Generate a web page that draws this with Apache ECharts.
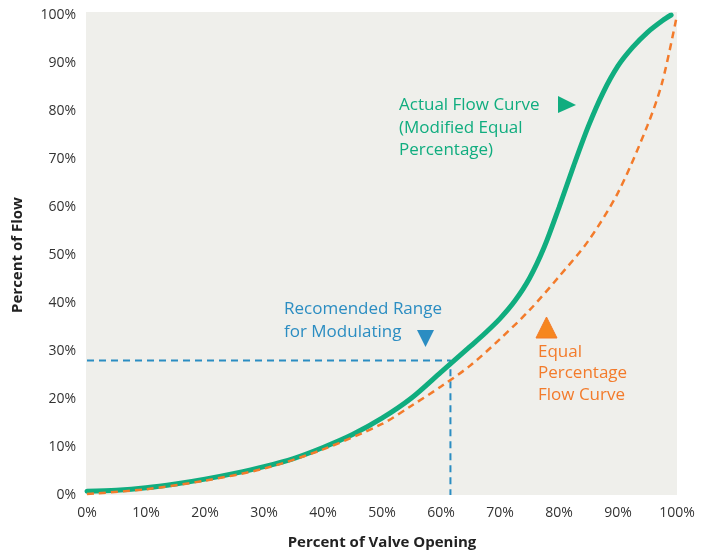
<!DOCTYPE html>
<html><head><meta charset="utf-8">
<script src="https://cdn.jsdelivr.net/npm/echarts@6/dist/echarts.min.js"></script>
<style>html,body{margin:0;padding:0;background:#fff}#c{width:714px;height:552px}</style>
</head><body><div id="c"></div>
<script>
const xTicks = [0,10,20,30,40,50,60,70,80,90,100];
const actualX = [0,5,10,15,20,25,30,35,40,45,50,55,60,65,67.5,70,72.5,75,77.5,80,82.5,85,87.5,90,92.5,95,97.5,99];
const actualY = [0.8,1.0,1.5,2.3,3.3,4.5,5.9,7.6,9.9,12.6,16.0,20.2,25.6,31.0,33.75,36.75,40.4,45.15,51.65,59.9,68.65,76.9,83.9,89.4,93.3,96.4,98.8,100];
const equalX = [0,10,20,30,40,50,55,60,65,70,75,80,85,90,95,97.5,100];
const equalY = [0.2,1.2,3.0,5.5,9.5,14.8,18.6,22.6,27,32.5,38.5,45.5,53,63,77,86,100];
const rangeX = [0,61.6,61.6];
const rangeY = [28,28,0];

const green = '#10ad7f', orange = '#f37b2b', blue = '#2b8dc2';
const font = '"Open Sans", "Noto Sans", sans-serif';
const zip = (a,b) => a.map((v,i)=>[v,b[i]]);

const chart = echarts.init(document.getElementById('c'));
chart.setOption({
  animation:false,
  grid:{left:87,right:37,top:15,bottom:57,show:false,containLabel:false,outerBoundsMode:'none'},
  xAxis:{type:'value',min:0,max:100,interval:10,
    name:'Percent of Valve Opening',nameLocation:'middle',nameGap:40,
    nameTextStyle:{fontFamily:font,fontSize:15,fontWeight:'bold',color:'#222'},
    axisLine:{show:false},axisTick:{show:false},splitLine:{show:false},
    axisLabel:{formatter:v=>v+'%',fontFamily:font,fontSize:14,color:'#333',margin:11}},
  yAxis:{type:'value',min:0,max:100,interval:10,
    name:'Percent of Flow',nameLocation:'middle',nameGap:62,
    nameTextStyle:{fontFamily:font,fontSize:15,fontWeight:'bold',color:'#222'},
    axisLine:{show:false},axisTick:{show:false},splitLine:{show:false},
    axisLabel:{formatter:v=>v+'%',fontFamily:font,fontSize:14,color:'#333',margin:11}},
  graphic:[
    {type:'rect',z:-10,silent:true,shape:{x:86,y:12,width:591,height:483},style:{fill:'#efefeb'}},
    {type:'text',left:399,top:94,style:{text:'Actual Flow Curve\n(Modified Equal\nPercentage)',fill:green,font:'17px '+font,lineHeight:22.5}},
    {type:'polygon',shape:{points:[[558,96],[576,105],[558,113]]},style:{fill:green}},
    {type:'text',left:284,top:298,style:{text:'Recomended Range\nfor Modulating',fill:blue,font:'17px '+font,lineHeight:22.5}},
    {type:'polygon',shape:{points:[[417,330],[434,330],[425.5,347]]},style:{fill:blue}},
    {type:'text',left:538,top:341,style:{text:'Equal\nPercentage\nFlow Curve',fill:orange,font:'17px '+font,lineHeight:21.5}},
    {type:'polygon',shape:{points:[[536,338],[546.5,317],[557,338]]},style:{fill:'#f6861f',stroke:orange,lineWidth:1}}
  ],
  series:[
    {type:'line',data:zip(rangeX,rangeY),symbol:'none',z:1,
      lineStyle:{color:blue,width:2,type:[7,5]}},
    {type:'line',data:zip(actualX,actualY),symbol:'none',smooth:0.3,z:3,
      lineStyle:{color:green,width:5,cap:'round'}},
    {type:'line',data:zip(equalX,equalY),symbol:'none',smooth:0.3,z:4,
      lineStyle:{color:orange,width:2.5,type:[7,5]}}
  ]
});
</script></body></html>
